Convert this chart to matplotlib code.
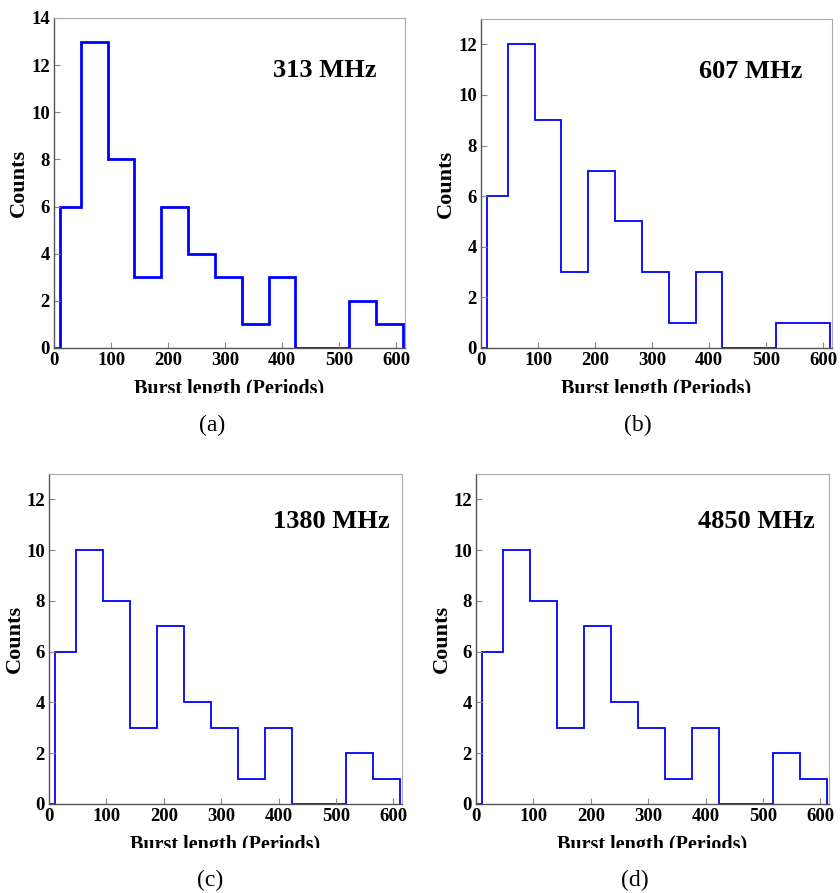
import matplotlib
matplotlib.use("Agg")
import matplotlib.pyplot as plt
from matplotlib.transforms import Bbox

# Bin edges (Periods); first segment 0-10 is an empty baseline
bin_edges = [0, 10, 47, 94, 141, 188, 235, 282, 329, 376, 423, 470, 517, 564, 612]
counts_313 = [0, 6, 13, 8, 3, 6, 4, 3, 1, 3, 0, 0, 2, 1]
counts_607 = [0, 6, 12, 9, 3, 7, 5, 3, 1, 3, 0, 0, 1, 1]
counts_1380 = [0, 6, 10, 8, 3, 7, 4, 3, 1, 3, 0, 0, 2, 1]
counts_4850 = [0, 6, 10, 8, 3, 7, 4, 3, 1, 3, 0, 0, 2, 1]
freq_labels = ["313 MHz", "607 MHz", "1380 MHz", "4850 MHz"]
captions = ["(a)", "(b)", "(c)", "(d)"]
x_ticks = [0, 100, 200, 300, 400, 500, 600]

W, H = 840, 893
fig = plt.figure(figsize=(W / 100, H / 100), dpi=100)

serif = ["Liberation Serif", "DejaVu Serif"]

# axes rectangles in pixels: left, top, right, bottom
rects = [(54, 18, 405, 348), (481, 19, 832, 348),
         (49, 474, 402, 804), (476, 474, 829, 804)]
ymaxes = [14, 13, 13, 13]
yticks_list = [list(range(0, 15, 2)), list(range(0, 13, 2)),
               list(range(0, 13, 2)), list(range(0, 13, 2))]
series = [counts_313, counts_607, counts_1380, counts_4850]
lws = [2.0, 1.3, 1.3, 1.3]
text_pos = [(0.92, 0.84), (0.915, 0.84), (0.965, 0.855), (0.96, 0.855)]
caption_pos = [(212, 425), (638, 425), (210, 880), (635, 880)]
clip_y = [393, 393, 848, 848]
ylabel_x = [29, 456, 25, 452]

for i in range(4):
    l, t, r, b = rects[i]
    ax = fig.add_axes([l / W, 1 - b / H, (r - l) / W, (b - t) / H])
    ax.stairs(series[i], bin_edges, color="#0000ff", linewidth=lws[i], baseline=0)
    ax.set_xlim(0, 615)
    ax.set_ylim(0, ymaxes[i])
    ax.set_xticks(x_ticks)
    ax.set_yticks(yticks_list[i])
    ax.tick_params(direction="in", length=4, width=0.8, color="#888888",
                   labelsize=13.5, pad=3, top=False, right=False)
    for lab in ax.get_xticklabels() + ax.get_yticklabels():
        lab.set_fontfamily(serif)
        lab.set_fontweight("bold")
    for side in ["left", "bottom"]:
        ax.spines[side].set_color("#555555")
        ax.spines[side].set_linewidth(1.0)
    for side in ["top", "right"]:
        ax.spines[side].set_color("#aaaaaa")
        ax.spines[side].set_linewidth(0.8)
    ax.set_ylabel("Counts", fontsize=16, fontweight="bold", family=serif)
    ax.yaxis.set_label_coords((ylabel_x[i] - l) / (r - l), 0.5)
    ax.set_xlabel("Burst length (Periods)", fontsize=14.5, fontweight="bold",
                  family=serif, labelpad=7)
    # clip the x label at the bottom like the reference
    xl = ax.xaxis.label
    xl.set_clip_on(True)
    xl.set_clip_box(Bbox([[0, H - clip_y[i]], [W, H]]))
    ax.text(text_pos[i][0], text_pos[i][1], freq_labels[i], transform=ax.transAxes,
            ha="right", va="center", fontsize=19, fontweight="bold", family=serif)
    cx, cy = caption_pos[i]
    fig.text(cx / W, 1 - cy / H, captions[i], ha="center", va="center",
             fontsize=17, family=serif)

fig.savefig("out.png", dpi=100)
